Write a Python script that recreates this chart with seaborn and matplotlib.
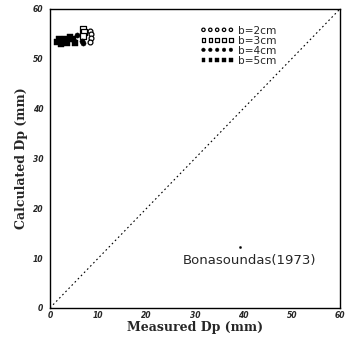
import matplotlib
matplotlib.use("Agg")
import matplotlib.pyplot as plt
import seaborn as sns

sns.set_theme(style="white")
plt.rcParams['font.family'] = ['DejaVu Sans']

b2_x = [8.3, 8.4, 8.4, 8.3]
b2_y = [55.6, 54.9, 54.1, 53.4]
b3_x = [6.8, 7.1, 6.9]
b3_y = [56.0, 55.3, 54.6]
b4_x = [2.0, 3.0, 4.0, 5.0, 5.6, 6.6, 6.8]
b4_y = [53.5, 53.8, 54.2, 53.6, 54.8, 53.6, 53.1]
b5_x = [1.5, 2.2, 2.8, 3.5, 4.2, 4.8, 1.8, 3.2, 5.2]
b5_y = [53.3, 53.0, 53.6, 53.2, 54.4, 53.9, 53.9, 54.0, 53.2]
bona_x = [39.3]
bona_y = [12.2]
ticks = [0, 10, 20, 30, 40, 50, 60]

fig = plt.figure(figsize=(3.47, 3.41), dpi=100)
ax = fig.add_axes([0.144, 0.097, 0.836, 0.877])

ax.plot([0, 60], [0, 60], linestyle=(0, (1.5, 2.5)), color='black', linewidth=0.8)

sns.scatterplot(x=b2_x, y=b2_y, ax=ax, marker='o', s=12, facecolor='white',
                edgecolor='black', linewidth=0.9, label='b=2cm')
sns.scatterplot(x=b3_x, y=b3_y, ax=ax, marker='s', s=14, facecolor='white',
                edgecolor='black', linewidth=0.9, label='b=3cm')
sns.scatterplot(x=b4_x, y=b4_y, ax=ax, marker='o', s=14, color='black',
                edgecolor='black', label='b=4cm')
sns.scatterplot(x=b5_x, y=b5_y, ax=ax, marker='s', s=14, color='black',
                edgecolor='black', label='b=5cm')
sns.scatterplot(x=bona_x, y=bona_y, ax=ax, marker='o', s=3, color='black',
                edgecolor='black', legend=False)

ax.text(27.5, 9.6, 'Bonasoundas(1973)', fontsize=9.5, va='center', ha='left')

ax.set_xlim(0, 60)
ax.set_ylim(0, 60)
ax.set_xticks(ticks)
ax.set_yticks(ticks)
ax.set_xticklabels([str(t) for t in ticks], fontsize=5.5, fontweight='bold', style='italic')
ax.set_yticklabels([str(t) for t in ticks], fontsize=5.5, fontweight='bold', style='italic')
ax.tick_params(axis='y', direction='out', length=4, width=0.8, color='black', pad=1)
ax.tick_params(axis='x', direction='in', length=3, width=0.8, color='black', pad=2)
for sp in ax.spines.values():
    sp.set_color('black')
    sp.set_linewidth(1.0)

ax.set_xlabel('Measured Dp (mm)', fontsize=9, fontweight='bold', family='DejaVu Serif', labelpad=1)
ax.set_ylabel('Calculated Dp (mm)', fontsize=9, fontweight='bold', family='DejaVu Serif', labelpad=3)

leg = ax.legend(loc='upper left', bbox_to_anchor=(0.5, 0.962), frameon=False,
                scatterpoints=5, scatteryoffsets=[0.5], markerscale=0.7,
                handlelength=3.2, handletextpad=0.35,
                labelspacing=0.0, fontsize=7.6, borderpad=0)

fig.savefig('out.png', dpi=100)
